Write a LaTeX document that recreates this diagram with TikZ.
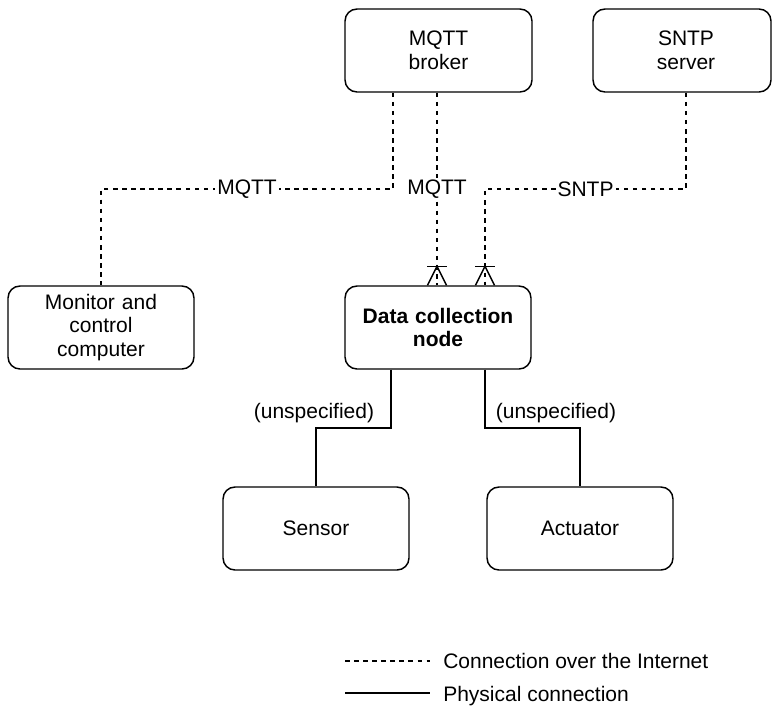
\documentclass[tikz,border=0pt]{standalone}
\usepackage{fontspec}
\setmainfont{Liberation Sans}
\usetikzlibrary{calc}

\tikzset{
  base/.style={line width=1.1pt, black},
  box/.style={base, draw, rounded corners=9pt, align=center, inner sep=0pt,
    minimum height=62.25pt, text width=130pt,
    font=\fontsize{15.75pt}{17.6pt}\selectfont},
  net/.style={base, dash pattern=on 3.4pt off 3.4pt},
  phys/.style={base},
  lab/.style={fill=white, inner sep=1.5pt, font=\fontsize{15.75pt}{17.6pt}\selectfont},
  txt/.style={inner sep=0pt, font=\fontsize{15.75pt}{17.6pt}\selectfont},
  onemany/.pic={
    \draw[base] (-10,-19) -- (10,-19);
    \draw[base, line join=miter] (-9.5,0) -- (0,-19) -- (9.5,0);
  }
}

\begin{document}
\begin{tikzpicture}[x=0.75pt, y=-0.75pt]
  % canvas
  \fill[white] (0,0) rectangle (772,711);
  \useasboundingbox (0,0) rectangle (772,711);

  % components
  \node[box, minimum width=140.25pt] (broker) at (438.5,50.5) {MQTT\\broker};
  \node[box, minimum width=133.5pt, text width=125pt] (sntp) at (682,50.5) {\hspace*{6pt}SNTP\\\hspace*{6pt}server};
  \node[box, minimum width=139.5pt] (mon) at (101,327.5) {Monitor and\\control\\computer};
  \node[box, minimum width=139.5pt, font=\bfseries\fontsize{15.75pt}{17.6pt}\selectfont] (dcn) at (438,327.5) {Data collection\\node};
  \node[box, minimum width=139.5pt] (sensor) at (316,528.5) {Sensor};
  \node[box, minimum width=139.5pt] (act) at (580,528.5) {Actuator};

  % internet connections
  \draw[net] (broker.south -| 393,0) -- (393,189)
    -- node[lab]{MQTT} (mon.north |- 0,189) -- (mon.north);
  \draw[net] (broker.south -| 437,0) -- node[lab]{MQTT} (dcn.north -| 437,0);
  \draw[net] ([xshift=3pt]sntp.south) -- (686,189)
    -- node[lab]{SNTP} (485,189) -- (dcn.north -| 485,0);
  \pic at (dcn.north -| 437,0) {onemany};
  \pic at (dcn.north -| 485,0) {onemany};

  % physical connections
  \draw[phys] (dcn.south -| 391,0) -- (391,428) -- (sensor.north |- 0,428) -- (sensor.north);
  \draw[phys] (dcn.south -| 485,0) -- (485,428) -- (act.north |- 0,428) -- (act.north);
  \node[txt] (u1) at (314,413) {(unspecified)};
  \node[txt] (u2) at (556,413) {(unspecified)};

  % legend
  \coordinate (l1a) at (345,661);
  \coordinate (l1b) at (430,661);
  \coordinate (l2a) at (345,693);
  \coordinate (l2b) at (430,693);
  \draw[net] (l1a) -- (l1b);
  \draw[phys] (l2a) -- (l2b);
  \node[txt, anchor=west] (t1) at (443,661) {Connection over the Internet};
  \node[txt, anchor=west] (t2) at (443,696) {Physical connection};
\end{tikzpicture}
\end{document}
